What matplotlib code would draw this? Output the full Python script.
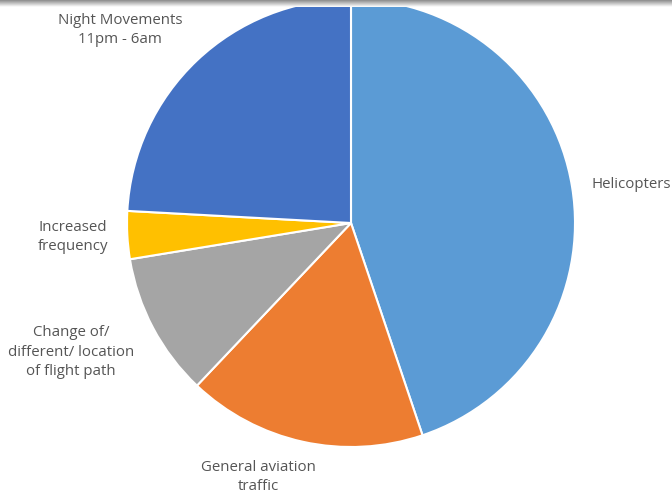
import numpy as np
import matplotlib.pyplot as plt

# complaint categories and counts
categories = ["Helicopters", "General aviation\ntraffic", "Change of/\ndifferent/ location\nof flight path",
              "Increased\nfrequency", "Night Movements\n11pm - 6am"]
counts = [13, 5, 3, 1, 7]
colors = ["#5B9BD5", "#ED7D31", "#A5A5A5", "#FFC000", "#4472C4"]

W, H = 672, 497
fig = plt.figure(figsize=(W / 100, H / 100), dpi=100)
ax = fig.add_axes([0, 0, 1, 1])
ax.axis("off")

ax.pie(counts, colors=colors, startangle=90, counterclock=False,
       center=(351, H - 223), radius=224,
       wedgeprops=dict(edgecolor="white", linewidth=1.5))

# label positions (pixels from top-left)
label_pos = [(631, 185), (258, 477), (71, 352), (73, 237), (120, 30)]
for text, (x, y) in zip(categories, label_pos):
    ax.text(x, H - y, text, ha="center", va="center", fontsize=10.8,
            color="#555555", family="Open Sans", linespacing=1.42)

# shadow band along the top edge
grad = np.linspace(0.55, 1.0, 20).reshape(-1, 1)
ax.imshow(np.dstack([grad, grad, grad]), extent=(0, W, H - 7, H),
          aspect="auto", zorder=5)
ax.set_xlim(0, W)
ax.set_ylim(0, H)

fig.savefig("out.png", dpi=100)
